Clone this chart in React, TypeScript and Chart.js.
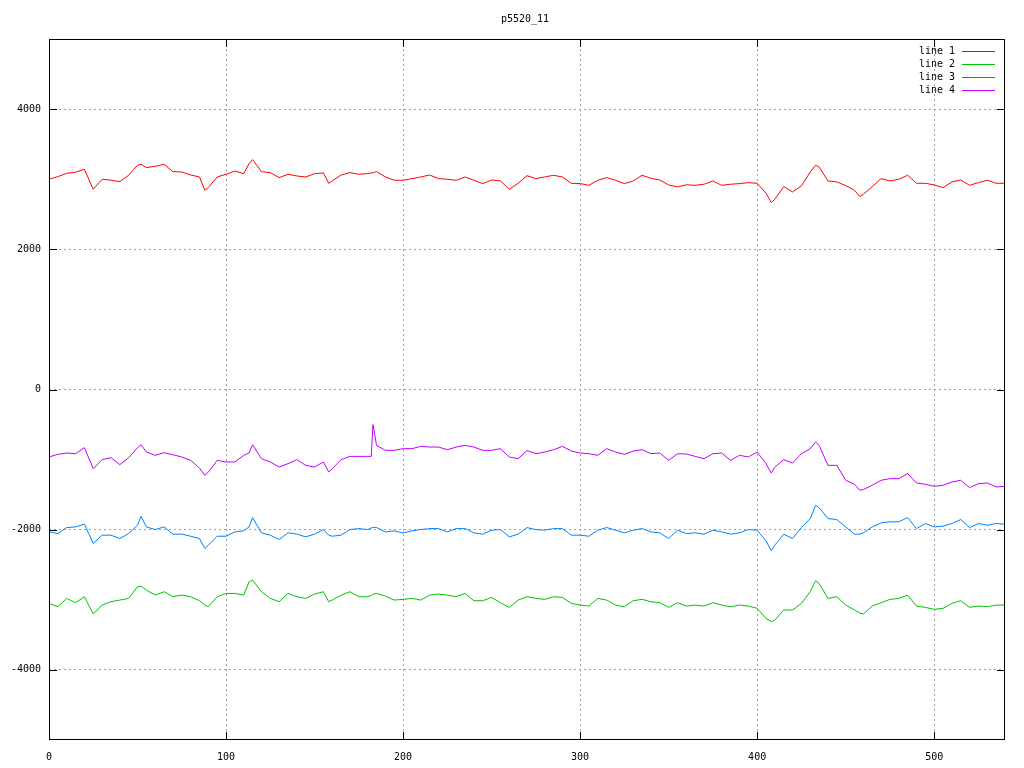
import React, { useEffect, useRef } from "react";
import { Chart, registerables } from "chart.js";

Chart.register(...registerables);

const TITLE = "p5520_11";
const SERIES_NAMES = ["line 1", "line 2", "line 3", "line 4"];
const SERIES_COLORS = ["#ff0000", "#00c000", "#0080ff", "#c000ff"];
const X_TICKS = [0, 100, 200, 300, 400, 500];
const Y_TICKS = [-4000, -2000, 0, 2000, 4000];

const XS = [
  0, 5, 10, 15, 20, 25, 30, 35, 40, 45, 50, 52, 55, 60, 65, 70, 75, 80, 85, 88, 90,
  95, 100, 105, 110, 113, 115, 120, 125, 130, 135, 140, 145, 150, 155, 158, 160,
  165, 170, 175, 180, 182, 183, 184, 185, 190, 195, 200, 205, 210, 215, 220, 225,
  230, 235, 240, 245, 250, 255, 260, 265, 270, 275, 280, 285, 290, 295, 300, 305,
  310, 315, 320, 325, 330, 335, 340, 345, 350, 355, 360, 365, 370, 375, 380, 385,
  390, 395, 400, 405, 408, 410, 415, 420, 425, 430, 433, 435, 440, 445, 450, 455,
  458, 460, 465, 470, 475, 480, 485, 490, 495, 500, 505, 510, 515, 520, 525, 530,
  535, 540,
];

const LINE1 = [
  3000, 3037, 3084, 3100, 3141, 2856, 3000, 2985, 2966, 3056, 3200, 3212, 3165, 3184, 3212, 3108, 3103, 3060, 3032, 2842, 2880,
  3032, 3070, 3117, 3079, 3222, 3280, 3108, 3094, 3023, 3070, 3046, 3032, 3079, 3090, 2942, 2975,
  3060, 3094, 3070, 3080, 3090, 3090, 3100, 3108, 3032, 2985, 2985, 3008, 3032, 3060, 3008, 2999,
  2985, 3032, 2985, 2937, 2989, 2975, 2856, 2942, 3050, 3008, 3032, 3056, 3032, 2942, 2937, 2913,
  2985, 3023, 2985, 2937, 2975, 3056, 3013, 2989, 2918, 2890, 2920, 2913, 2928, 2975, 2913, 2928,
  2937, 2951, 2942, 2800, 2667, 2714, 2894, 2818, 2904, 3103, 3198, 3174, 2975, 2961, 2910, 2842,
  2752, 2785, 2894, 3008, 2975, 2999, 3056, 2942, 2942, 2918, 2880, 2961, 2989, 2913, 2951, 2985,
  2942, 2942,
];

const LINE2 = [
  -3051, -3099, -2980, -3042, -2956, -3203, -3075, -3027, -3004, -2980, -2814, -2805, -2861, -2933, -2885, -2956, -2933, -2956, -3013, -3075, -3099,
  -2956, -2909, -2909, -2933, -2743, -2719, -2885, -2980, -3027, -2909, -2956, -2980, -2918, -2885, -3027, -3004,
  -2933, -2885, -2956, -2956, -2940, -2920, -2915, -2909, -2947, -3004, -2994, -2980, -3004, -2933, -2918, -2933,
  -2956, -2909, -3013, -3013, -2966, -3042, -3108, -3004, -2956, -2980, -2994, -2956, -2966, -3051, -3075, -3089,
  -2980, -3004, -3075, -3099, -3013, -2994, -3027, -3042, -3108, -3042, -3090, -3075, -3089, -3042, -3075, -3099,
  -3075, -3089, -3122, -3265, -3312, -3288, -3146, -3146, -3051, -2885, -2728, -2766, -2980, -2956, -3075, -3146,
  -3190, -3203, -3089, -3042, -2994, -2980, -2933, -3089, -3108, -3136, -3122, -3051, -3013, -3108, -3089, -3099,
  -3075, -3075,
];

const LINE3 = [
  -2031, -2055, -1969, -1960, -1920, -2197, -2078, -2078, -2126, -2055, -1936, -1808, -1960, -1998, -1960, -2064, -2064, -2093, -2126, -2268, -2220,
  -2093, -2093, -2031, -2017, -1960, -1827, -2045, -2078, -2140, -2045, -2064, -2102, -2064, -1998, -2078, -2093,
  -2078, -1998, -1984, -1998, -1975, -1969, -1965, -1969, -2031, -2017, -2045, -2017, -1998, -1984, -1984, -2031,
  -1984, -1984, -2045, -2064, -2007, -1998, -2102, -2064, -1970, -1998, -2007, -1984, -1984, -2078, -2078, -2093,
  -2007, -1969, -2007, -2045, -2007, -1984, -2031, -2045, -2126, -2007, -2055, -2045, -2064, -2007, -2031, -2064,
  -2045, -1998, -2007, -2159, -2301, -2221, -2064, -2126, -1969, -1841, -1651, -1685, -1841, -1855, -1960, -2064,
  -2064, -2045, -1960, -1903, -1888, -1888, -1827, -1984, -1912, -1960, -1950, -1912, -1855, -1969, -1912, -1936,
  -1912, -1922,
];

const LINE4 = [
  -963, -925, -906, -916, -830, -1129, -1001, -973, -1072, -973, -830, -788, -892, -939, -901, -930, -963, -1011, -1120, -1224, -1180,
  -1011, -1034, -1034, -939, -906, -788, -987, -1034, -1106, -1058, -1000, -1082, -1106, -1034, -1177, -1129,
  -1001, -954, -954, -954, -954, -500, -640, -797, -868, -868, -844, -844, -811, -821, -821, -859,
  -821, -797, -821, -868, -868, -844, -963, -987, -870, -916, -892, -859, -811, -878, -906, -916,
  -939, -844, -892, -925, -878, -859, -916, -906, -1011, -916, -920, -954, -987, -916, -906, -1011,
  -939, -963, -892, -1058, -1191, -1106, -1001, -1049, -916, -844, -750, -797, -1082, -1082, -1295, -1352,
  -1438, -1428, -1366, -1295, -1272, -1272, -1200, -1333, -1352, -1381, -1366, -1319, -1295, -1400, -1343, -1333,
  -1390, -1381,
];

const SERIES_VALUES = [LINE1, LINE2, LINE3, LINE4];

const FONT_FAMILY = "'DejaVu Sans Mono'";
const FONT = "10px " + FONT_FAMILY;

const framePlugin = {
  id: "gnuplotFrame",
  afterDraw(chart: any) {
    const { ctx, chartArea } = chart;
    const { left, right, top, bottom } = chartArea;
    const xs = chart.scales.x;
    const ys = chart.scales.y;
    ctx.save();
    ctx.strokeStyle = "#000000";
    ctx.lineWidth = 1;
    ctx.strokeRect(Math.round(left) + 0.5, Math.round(top) + 0.5, Math.round(right - left) - 1, Math.round(bottom - top) - 1);
    ctx.beginPath();
    for (const v of Y_TICKS) {
      const y = Math.round(ys.getPixelForValue(v)) + 0.5;
      ctx.moveTo(left, y);
      ctx.lineTo(left + 8, y);
      ctx.moveTo(right, y);
      ctx.lineTo(right - 8, y);
    }
    for (const v of X_TICKS) {
      const x = Math.round(xs.getPixelForValue(v)) + 0.5;
      ctx.moveTo(x, bottom);
      ctx.lineTo(x, bottom - 8);
      ctx.moveTo(x, top);
      ctx.lineTo(x, top + 8);
    }
    ctx.stroke();

    ctx.fillStyle = "#000000";
    ctx.font = FONT;
    ctx.textAlign = "center";
    ctx.textBaseline = "middle";
    ctx.fillText(TITLE, 525, 19);

    ctx.textAlign = "right";
    SERIES_NAMES.forEach((name, i) => {
      const y = 51 + i * 13;
      ctx.fillStyle = "#000000";
      ctx.fillText(name, 955, y);
      ctx.strokeStyle = SERIES_COLORS[i];
      ctx.beginPath();
      ctx.moveTo(962, Math.round(y) + 0.5);
      ctx.lineTo(995, Math.round(y) + 0.5);
      ctx.stroke();
    });
    ctx.restore();
  },
};

export default function App() {
  const ref = useRef<HTMLCanvasElement | null>(null);

  useEffect(() => {
    document.body.style.margin = "0";
    const canvas = ref.current;
    if (!canvas) return;
    const datasets = SERIES_NAMES.map((name, i) => ({
      label: name,
      data: XS.map((x, j) => ({ x, y: SERIES_VALUES[i][j] })),
      borderColor: SERIES_COLORS[i],
      backgroundColor: SERIES_COLORS[i],
      borderWidth: 1,
      pointRadius: 0,
      tension: 0,
      fill: false,
    }));
    const chart = new Chart(canvas, {
      type: "line",
      data: { datasets },
      options: {
        animation: false,
        responsive: false,
        devicePixelRatio: 1,
        layout: { padding: { top: 39, right: 19, left: 0, bottom: 0 } },
        plugins: {
          legend: { display: false },
          title: { display: false },
          tooltip: { enabled: false },
        },
        scales: {
          x: {
            type: "linear",
            min: 0,
            max: 540,
            afterBuildTicks: (scale: any) => {
              scale.ticks = X_TICKS.map((v) => ({ value: v }));
            },
            afterFit: (scale: any) => {
              scale.height = 28;
            },
            grid: { color: "#a0a0a0", drawTicks: false, lineWidth: 1 },
            border: { display: false, dash: [2, 3] },
            ticks: {
              color: "#000000",
              font: { family: "DejaVu Sans Mono", size: 10 },
              padding: 11,
              maxRotation: 0,
              autoSkip: false,
            },
          },
          y: {
            type: "linear",
            min: -5000,
            max: 5000,
            afterBuildTicks: (scale: any) => {
              scale.ticks = Y_TICKS.map((v) => ({ value: v }));
            },
            afterFit: (scale: any) => {
              scale.width = 49;
            },
            grid: { color: "#a0a0a0", drawTicks: false, lineWidth: 1 },
            border: { display: false, dash: [2, 3] },
            ticks: {
              color: "#000000",
              font: { family: "DejaVu Sans Mono", size: 10 },
              padding: 8,
              autoSkip: false,
              callback: (v: any) => String(v),
            },
          },
        },
      },
      plugins: [framePlugin],
    });
    return () => chart.destroy();
  }, []);

  return (
    <div style={{ width: 1024, height: 768, background: "#ffffff" }}>
      <canvas ref={ref} width={1024} height={768} style={{ display: "block" }} />
    </div>
  );
}
